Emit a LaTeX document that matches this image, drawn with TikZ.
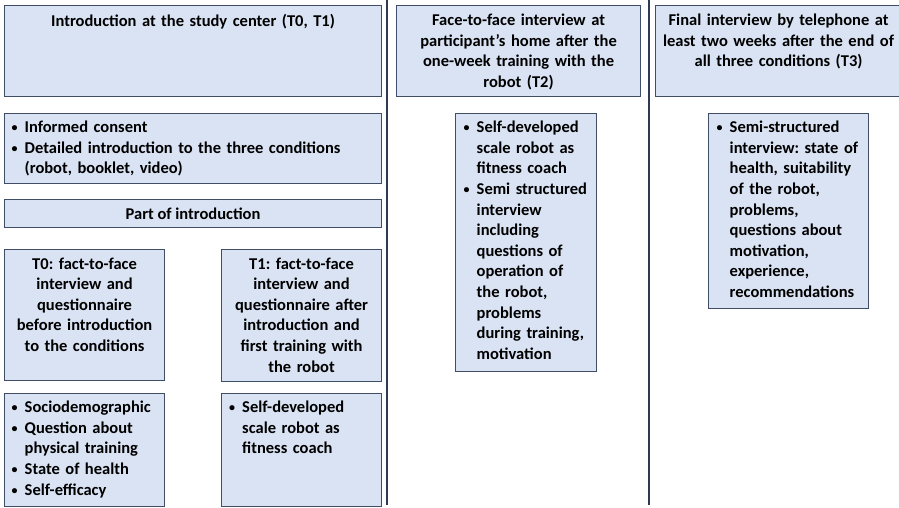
\documentclass[tikz,border=0pt]{standalone}
\usepackage{fontspec}
\setmainfont{Carlito}
\usetikzlibrary{positioning}
\definecolor{panelfill}{HTML}{DAE3F3}
\definecolor{edge}{HTML}{3F4D66}
\definecolor{rulecol}{HTML}{2E3A50}
\newcommand{\bul}[1]{\hangindent=13pt\hangafter=1\noindent\makebox[13pt][l]{\raisebox{1pt}{\fontsize{12}{12}\selectfont\textbullet}}#1\par}
\tikzset{
  panel/.style={draw=edge, fill=panelfill, line width=1.1pt, anchor=north west, inner sep=0pt},
  colrule/.style={draw=rulecol, line width=1.4pt},
  txt/.style={inner sep=0pt, font=\fontsize{16.5}{20.6}\selectfont\bfseries\frenchspacing},
  head/.style={txt, align=center},
  list/.style={txt, align=left, anchor=north west}
}

\begin{document}
\begin{tikzpicture}[x=1pt,y=-1pt]
  \clip (0,0) rectangle (899,507);

  % column rules
  \coordinate (r1top) at (387,0); \coordinate (r1bot) at (387,505);
  \coordinate (r2top) at (649,0); \coordinate (r2bot) at (649,505);
  \draw[colrule] (r1top)--(r1bot);
  \draw[colrule] (r2top)--(r2bot);

  % column 1: study center
  \node[panel, minimum width=377pt, minimum height=91pt] (intro) at (4,5) {};
  \node[head, text width=370pt, below=9pt of intro.north] (introtxt)
    {Introduction at the study center (T0, T1)};

  \node[panel, minimum width=377pt, minimum height=70pt] (consent) at (4,113) {};
  \node[list, text width=365pt, below right=8pt and 7.5pt of consent.north west] (consenttxt)
    {\bul{Informed consent}\bul{Detailed introduction to the three conditions\newline (robot, booklet, video)}};

  \node[panel, minimum width=377pt, minimum height=28pt, anchor=north west, txt] (part) at (4,199) {Part of introduction};

  \node[panel, minimum width=160pt, minimum height=131pt] (tzero) at (4,249) {};
  \node[head, text width=158pt, below=8.5pt of tzero.north] (tzerotxt)
    {T0: fact-to-face\\ interview and\\ questionnaire\\ before introduction\\ to the conditions};

  \node[panel, minimum width=160pt, minimum height=132pt] (tone) at (221,249) {};
  \node[head, text width=158pt, below=8.5pt of tone.north] (tonetxt)
    {T1: fact-to-face\\ interview and\\ questionnaire after\\ introduction and\\ first training with\\ the robot};

  \node[panel, minimum width=160pt, minimum height=113pt] (tzerolist) at (4,393) {};
  \node[list, text width=155pt, below right=8pt and 7.5pt of tzerolist.north west] (tzerolisttxt)
    {\bul{Sociodemographic}\bul{Question about\newline physical training}\bul{State of health}\bul{Self-efficacy}};

  \node[panel, minimum width=160pt, minimum height=113pt] (tonelist) at (221,393) {};
  \node[list, text width=150pt, below right=8pt and 8pt of tonelist.north west] (tonelisttxt)
    {\bul{Self-developed\newline scale robot as\newline fitness coach}};

  % column 2: home visit
  \node[panel, minimum width=244pt, minimum height=91pt] (home) at (396,5) {};
  \node[head, text width=242pt, below=9pt of home.north] (hometxt)
    {Face-to-face interview at\\ participant’s home after the\\ one-week training with the\\ robot (T2)};

  \node[panel, minimum width=141pt, minimum height=258pt] (homelist) at (455,113) {};
  \node[list, text width=135pt, below right=8pt and 8.5pt of homelist.north west] (homelisttxt)
    {\bul{Self-developed\newline scale robot as\newline fitness coach}\bul{Semi structured\newline interview\newline including\newline questions of\newline operation of\newline the robot,\newline problems\newline during training,\newline motivation}};

  % column 3: telephone
  \node[panel, minimum width=246pt, minimum height=91pt] (phone) at (655,5) {};
  \node[head, text width=244pt, below=9pt of phone.north] (phonetxt)
    {Final interview by telephone at\\ least two weeks after the end of\\ all three conditions (T3)};

  \node[panel, minimum width=160pt, minimum height=195pt] (phonelist) at (708,113) {};
  \node[list, text width=152pt, below right=8pt and 8.5pt of phonelist.north west] (phonelisttxt)
    {\bul{Semi-structured\newline interview: state of\newline health, suitability\newline of the robot,\newline problems,\newline questions about\newline motivation,\newline experience,\newline recommendations}};
\end{tikzpicture}
\end{document}
